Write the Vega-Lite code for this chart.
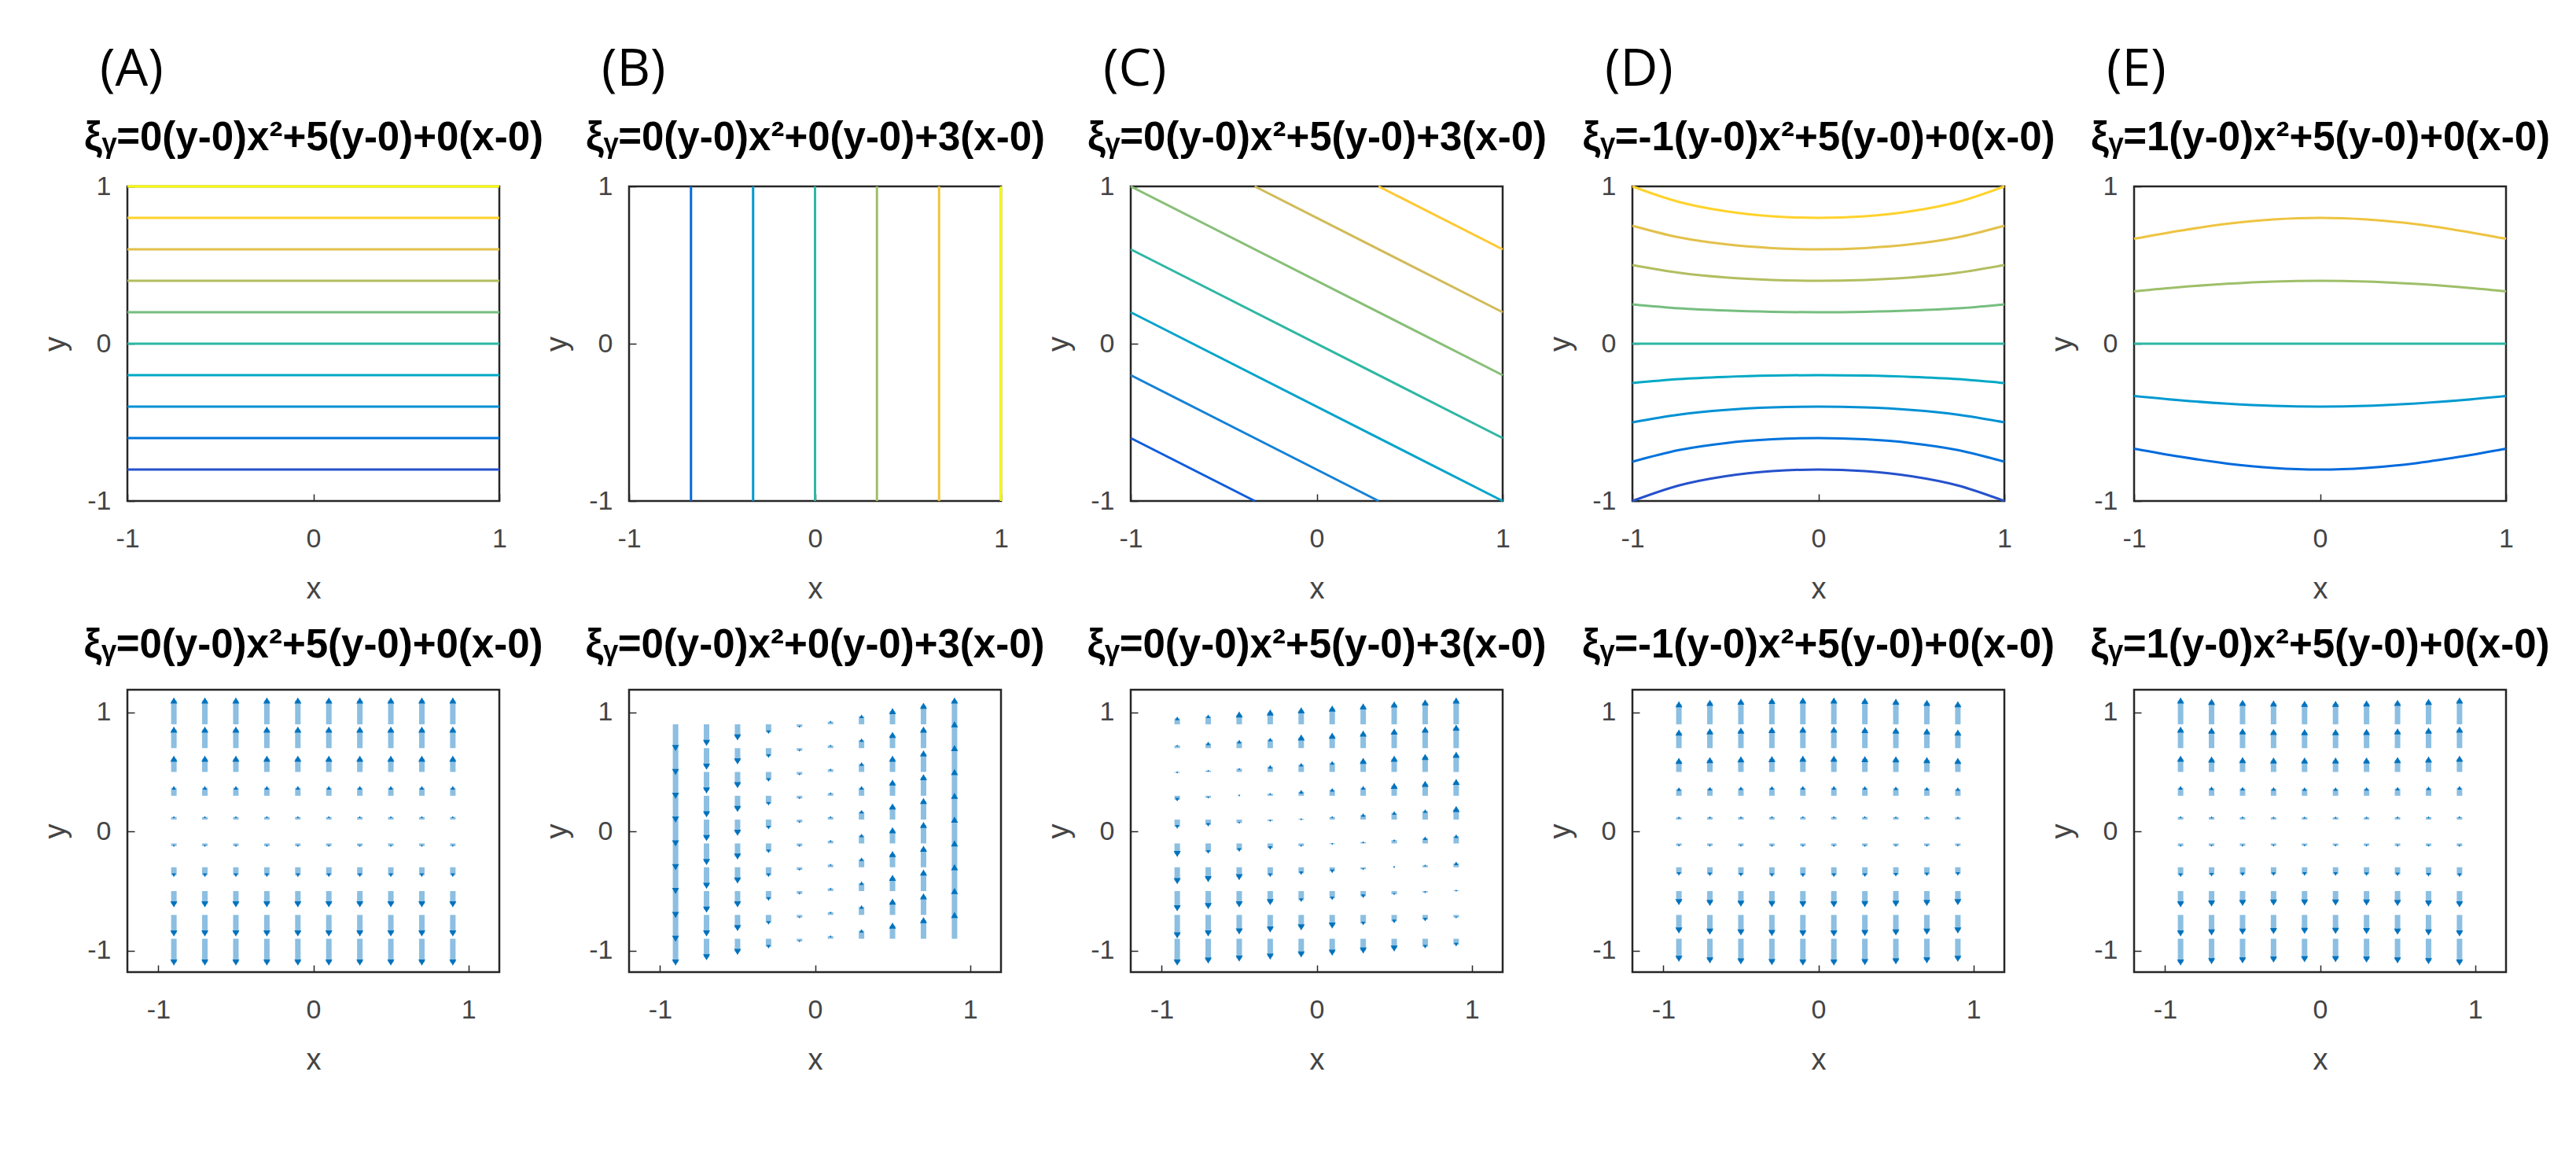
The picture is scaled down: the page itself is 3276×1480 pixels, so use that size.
{
"$schema": "https://vega.github.io/schema/vega-lite/v6.json",
"background": "white",
"padding": {"left": 51, "top": 54, "right": 10, "bottom": 10},
"config": {
  "view": {"stroke": "#262626", "strokeWidth": 2.5},
  "axis": {"grid": false, "domain": false, "ticks": true, "tickSize": -9, "tickColor": "#262626", "tickWidth": 1.5, "labelFont": "Liberation Sans", "labelFontSize": 34, "labelColor": "#444444", "titleFont": "Liberation Sans", "titleFontSize": 38, "titleFontWeight": "normal", "titleColor": "#444444", "labelFlush": false, "labelOverlap": false, "labelExpr": "'' + datum.value"},
  "axisX": {"labelPadding": 40, "titlePadding": 28},
  "axisY": {"labelPadding": 30, "titlePadding": 20},
  "title": {"font": "Liberation Sans", "fontSize": 51, "fontWeight": "bold", "color": "#000000", "anchor": "middle", "offset": 30},
  "line": {"strokeWidth": 3}
},
"resolve": {"scale": {"color": "independent"}},
"datasets": {
  "cA": [
    {"l":-4,"x":-1,"y":-0.8},{"l":-4,"x":1,"y":-0.8},
    {"l":-3,"x":-1,"y":-0.6},{"l":-3,"x":1,"y":-0.6},
    {"l":-2,"x":-1,"y":-0.4},{"l":-2,"x":1,"y":-0.4},
    {"l":-1,"x":-1,"y":-0.2},{"l":-1,"x":1,"y":-0.2},
    {"l":0,"x":-1,"y":0},{"l":0,"x":1,"y":0},
    {"l":1,"x":-1,"y":0.2},{"l":1,"x":1,"y":0.2},
    {"l":2,"x":-1,"y":0.4},{"l":2,"x":1,"y":0.4},
    {"l":3,"x":-1,"y":0.6},{"l":3,"x":1,"y":0.6},
    {"l":4,"x":-1,"y":0.8},{"l":4,"x":1,"y":0.8},
    {"l":5,"x":-1,"y":1},{"l":5,"x":1,"y":1}
  ],
  "cB": [
    {"l":-2,"x":-0.667,"y":-1},{"l":-2,"x":-0.667,"y":1},
    {"l":-1,"x":-0.333,"y":-1},{"l":-1,"x":-0.333,"y":1},
    {"l":0,"x":0,"y":-1},{"l":0,"x":0,"y":1},
    {"l":1,"x":0.333,"y":-1},{"l":1,"x":0.333,"y":1},
    {"l":2,"x":0.667,"y":-1},{"l":2,"x":0.667,"y":1},
    {"l":3,"x":1,"y":-1},{"l":3,"x":1,"y":1}
  ],
  "cC": [
    {"l":6,"x":0.333,"y":1},{"l":6,"x":1,"y":0.6},
    {"l":4,"x":-0.333,"y":1},{"l":4,"x":1,"y":0.2},
    {"l":2,"x":-1,"y":1},{"l":2,"x":1,"y":-0.2},
    {"l":0,"x":-1,"y":0.6},{"l":0,"x":1,"y":-0.6},
    {"l":-2,"x":-1,"y":0.2},{"l":-2,"x":1,"y":-1},
    {"l":-4,"x":-1,"y":-0.2},{"l":-4,"x":0.333,"y":-1},
    {"l":-6,"x":-1,"y":-0.6},{"l":-6,"x":-0.333,"y":-1}
  ],
  "cD": [
    {"l":4,"x":-1,"y":1},{"l":4,"x":-0.75,"y":0.901},{"l":4,"x":-0.5,"y":0.842},{"l":4,"x":-0.25,"y":0.81},{"l":4,"x":0,"y":0.8},{"l":4,"x":0.25,"y":0.81},{"l":4,"x":0.5,"y":0.842},{"l":4,"x":0.75,"y":0.901},{"l":4,"x":1,"y":1},
    {"l":3,"x":-1,"y":0.75},{"l":3,"x":-0.75,"y":0.676},{"l":3,"x":-0.5,"y":0.632},{"l":3,"x":-0.25,"y":0.608},{"l":3,"x":0,"y":0.6},{"l":3,"x":0.25,"y":0.608},{"l":3,"x":0.5,"y":0.632},{"l":3,"x":0.75,"y":0.676},{"l":3,"x":1,"y":0.75},
    {"l":2,"x":-1,"y":0.5},{"l":2,"x":-0.75,"y":0.451},{"l":2,"x":-0.5,"y":0.421},{"l":2,"x":-0.25,"y":0.405},{"l":2,"x":0,"y":0.4},{"l":2,"x":0.25,"y":0.405},{"l":2,"x":0.5,"y":0.421},{"l":2,"x":0.75,"y":0.451},{"l":2,"x":1,"y":0.5},
    {"l":1,"x":-1,"y":0.25},{"l":1,"x":-0.75,"y":0.225},{"l":1,"x":-0.5,"y":0.211},{"l":1,"x":-0.25,"y":0.203},{"l":1,"x":0,"y":0.2},{"l":1,"x":0.25,"y":0.203},{"l":1,"x":0.5,"y":0.211},{"l":1,"x":0.75,"y":0.225},{"l":1,"x":1,"y":0.25},
    {"l":0,"x":-1,"y":0},{"l":0,"x":1,"y":0},
    {"l":-1,"x":-1,"y":-0.25},{"l":-1,"x":-0.75,"y":-0.225},{"l":-1,"x":-0.5,"y":-0.211},{"l":-1,"x":-0.25,"y":-0.203},{"l":-1,"x":0,"y":-0.2},{"l":-1,"x":0.25,"y":-0.203},{"l":-1,"x":0.5,"y":-0.211},{"l":-1,"x":0.75,"y":-0.225},{"l":-1,"x":1,"y":-0.25},
    {"l":-2,"x":-1,"y":-0.5},{"l":-2,"x":-0.75,"y":-0.451},{"l":-2,"x":-0.5,"y":-0.421},{"l":-2,"x":-0.25,"y":-0.405},{"l":-2,"x":0,"y":-0.4},{"l":-2,"x":0.25,"y":-0.405},{"l":-2,"x":0.5,"y":-0.421},{"l":-2,"x":0.75,"y":-0.451},{"l":-2,"x":1,"y":-0.5},
    {"l":-3,"x":-1,"y":-0.75},{"l":-3,"x":-0.75,"y":-0.676},{"l":-3,"x":-0.5,"y":-0.632},{"l":-3,"x":-0.25,"y":-0.608},{"l":-3,"x":0,"y":-0.6},{"l":-3,"x":0.25,"y":-0.608},{"l":-3,"x":0.5,"y":-0.632},{"l":-3,"x":0.75,"y":-0.676},{"l":-3,"x":1,"y":-0.75},
    {"l":-4,"x":-1,"y":-1},{"l":-4,"x":-0.75,"y":-0.901},{"l":-4,"x":-0.5,"y":-0.842},{"l":-4,"x":-0.25,"y":-0.81},{"l":-4,"x":0,"y":-0.8},{"l":-4,"x":0.25,"y":-0.81},{"l":-4,"x":0.5,"y":-0.842},{"l":-4,"x":0.75,"y":-0.901},{"l":-4,"x":1,"y":-1}
  ],
  "cE": [
    {"l":4,"x":-1,"y":0.667},{"l":4,"x":-0.75,"y":0.719},{"l":4,"x":-0.5,"y":0.762},{"l":4,"x":-0.25,"y":0.79},{"l":4,"x":0,"y":0.8},{"l":4,"x":0.25,"y":0.79},{"l":4,"x":0.5,"y":0.762},{"l":4,"x":0.75,"y":0.719},{"l":4,"x":1,"y":0.667},
    {"l":2,"x":-1,"y":0.333},{"l":2,"x":-0.75,"y":0.36},{"l":2,"x":-0.5,"y":0.381},{"l":2,"x":-0.25,"y":0.395},{"l":2,"x":0,"y":0.4},{"l":2,"x":0.25,"y":0.395},{"l":2,"x":0.5,"y":0.381},{"l":2,"x":0.75,"y":0.36},{"l":2,"x":1,"y":0.333},
    {"l":0,"x":-1,"y":0},{"l":0,"x":1,"y":0},
    {"l":-2,"x":-1,"y":-0.333},{"l":-2,"x":-0.75,"y":-0.36},{"l":-2,"x":-0.5,"y":-0.381},{"l":-2,"x":-0.25,"y":-0.395},{"l":-2,"x":0,"y":-0.4},{"l":-2,"x":0.25,"y":-0.395},{"l":-2,"x":0.5,"y":-0.381},{"l":-2,"x":0.75,"y":-0.36},{"l":-2,"x":1,"y":-0.333},
    {"l":-4,"x":-1,"y":-0.667},{"l":-4,"x":-0.75,"y":-0.719},{"l":-4,"x":-0.5,"y":-0.762},{"l":-4,"x":-0.25,"y":-0.79},{"l":-4,"x":0,"y":-0.8},{"l":-4,"x":0.25,"y":-0.79},{"l":-4,"x":0.5,"y":-0.762},{"l":-4,"x":0.75,"y":-0.719},{"l":-4,"x":1,"y":-0.667}
  ],
  "qA": [
    {"x":-0.9,"y":-0.9,"e":-1.1},{"x":-0.9,"y":-0.7,"e":-0.856},{"x":-0.9,"y":-0.5,"e":-0.611},{"x":-0.9,"y":-0.3,"e":-0.367},{"x":-0.9,"y":-0.1,"e":-0.122},{"x":-0.9,"y":0.1,"e":0.122},{"x":-0.9,"y":0.3,"e":0.367},{"x":-0.9,"y":0.5,"e":0.611},{"x":-0.9,"y":0.7,"e":0.856},{"x":-0.9,"y":0.9,"e":1.1},
    {"x":-0.7,"y":-0.9,"e":-1.1},{"x":-0.7,"y":-0.7,"e":-0.856},{"x":-0.7,"y":-0.5,"e":-0.611},{"x":-0.7,"y":-0.3,"e":-0.367},{"x":-0.7,"y":-0.1,"e":-0.122},{"x":-0.7,"y":0.1,"e":0.122},{"x":-0.7,"y":0.3,"e":0.367},{"x":-0.7,"y":0.5,"e":0.611},{"x":-0.7,"y":0.7,"e":0.856},{"x":-0.7,"y":0.9,"e":1.1},
    {"x":-0.5,"y":-0.9,"e":-1.1},{"x":-0.5,"y":-0.7,"e":-0.856},{"x":-0.5,"y":-0.5,"e":-0.611},{"x":-0.5,"y":-0.3,"e":-0.367},{"x":-0.5,"y":-0.1,"e":-0.122},{"x":-0.5,"y":0.1,"e":0.122},{"x":-0.5,"y":0.3,"e":0.367},{"x":-0.5,"y":0.5,"e":0.611},{"x":-0.5,"y":0.7,"e":0.856},{"x":-0.5,"y":0.9,"e":1.1},
    {"x":-0.3,"y":-0.9,"e":-1.1},{"x":-0.3,"y":-0.7,"e":-0.856},{"x":-0.3,"y":-0.5,"e":-0.611},{"x":-0.3,"y":-0.3,"e":-0.367},{"x":-0.3,"y":-0.1,"e":-0.122},{"x":-0.3,"y":0.1,"e":0.122},{"x":-0.3,"y":0.3,"e":0.367},{"x":-0.3,"y":0.5,"e":0.611},{"x":-0.3,"y":0.7,"e":0.856},{"x":-0.3,"y":0.9,"e":1.1},
    {"x":-0.1,"y":-0.9,"e":-1.1},{"x":-0.1,"y":-0.7,"e":-0.856},{"x":-0.1,"y":-0.5,"e":-0.611},{"x":-0.1,"y":-0.3,"e":-0.367},{"x":-0.1,"y":-0.1,"e":-0.122},{"x":-0.1,"y":0.1,"e":0.122},{"x":-0.1,"y":0.3,"e":0.367},{"x":-0.1,"y":0.5,"e":0.611},{"x":-0.1,"y":0.7,"e":0.856},{"x":-0.1,"y":0.9,"e":1.1},
    {"x":0.1,"y":-0.9,"e":-1.1},{"x":0.1,"y":-0.7,"e":-0.856},{"x":0.1,"y":-0.5,"e":-0.611},{"x":0.1,"y":-0.3,"e":-0.367},{"x":0.1,"y":-0.1,"e":-0.122},{"x":0.1,"y":0.1,"e":0.122},{"x":0.1,"y":0.3,"e":0.367},{"x":0.1,"y":0.5,"e":0.611},{"x":0.1,"y":0.7,"e":0.856},{"x":0.1,"y":0.9,"e":1.1},
    {"x":0.3,"y":-0.9,"e":-1.1},{"x":0.3,"y":-0.7,"e":-0.856},{"x":0.3,"y":-0.5,"e":-0.611},{"x":0.3,"y":-0.3,"e":-0.367},{"x":0.3,"y":-0.1,"e":-0.122},{"x":0.3,"y":0.1,"e":0.122},{"x":0.3,"y":0.3,"e":0.367},{"x":0.3,"y":0.5,"e":0.611},{"x":0.3,"y":0.7,"e":0.856},{"x":0.3,"y":0.9,"e":1.1},
    {"x":0.5,"y":-0.9,"e":-1.1},{"x":0.5,"y":-0.7,"e":-0.856},{"x":0.5,"y":-0.5,"e":-0.611},{"x":0.5,"y":-0.3,"e":-0.367},{"x":0.5,"y":-0.1,"e":-0.122},{"x":0.5,"y":0.1,"e":0.122},{"x":0.5,"y":0.3,"e":0.367},{"x":0.5,"y":0.5,"e":0.611},{"x":0.5,"y":0.7,"e":0.856},{"x":0.5,"y":0.9,"e":1.1},
    {"x":0.7,"y":-0.9,"e":-1.1},{"x":0.7,"y":-0.7,"e":-0.856},{"x":0.7,"y":-0.5,"e":-0.611},{"x":0.7,"y":-0.3,"e":-0.367},{"x":0.7,"y":-0.1,"e":-0.122},{"x":0.7,"y":0.1,"e":0.122},{"x":0.7,"y":0.3,"e":0.367},{"x":0.7,"y":0.5,"e":0.611},{"x":0.7,"y":0.7,"e":0.856},{"x":0.7,"y":0.9,"e":1.1},
    {"x":0.9,"y":-0.9,"e":-1.1},{"x":0.9,"y":-0.7,"e":-0.856},{"x":0.9,"y":-0.5,"e":-0.611},{"x":0.9,"y":-0.3,"e":-0.367},{"x":0.9,"y":-0.1,"e":-0.122},{"x":0.9,"y":0.1,"e":0.122},{"x":0.9,"y":0.3,"e":0.367},{"x":0.9,"y":0.5,"e":0.611},{"x":0.9,"y":0.7,"e":0.856},{"x":0.9,"y":0.9,"e":1.1}
  ],
  "qB": [
    {"x":-0.9,"y":-0.9,"e":-1.1},{"x":-0.9,"y":-0.7,"e":-0.9},{"x":-0.9,"y":-0.5,"e":-0.7},{"x":-0.9,"y":-0.3,"e":-0.5},{"x":-0.9,"y":-0.1,"e":-0.3},{"x":-0.9,"y":0.1,"e":-0.1},{"x":-0.9,"y":0.3,"e":0.1},{"x":-0.9,"y":0.5,"e":0.3},{"x":-0.9,"y":0.7,"e":0.5},{"x":-0.9,"y":0.9,"e":0.7},
    {"x":-0.7,"y":-0.9,"e":-1.056},{"x":-0.7,"y":-0.7,"e":-0.856},{"x":-0.7,"y":-0.5,"e":-0.656},{"x":-0.7,"y":-0.3,"e":-0.456},{"x":-0.7,"y":-0.1,"e":-0.256},{"x":-0.7,"y":0.1,"e":-0.056},{"x":-0.7,"y":0.3,"e":0.144},{"x":-0.7,"y":0.5,"e":0.344},{"x":-0.7,"y":0.7,"e":0.544},{"x":-0.7,"y":0.9,"e":0.744},
    {"x":-0.5,"y":-0.9,"e":-1.011},{"x":-0.5,"y":-0.7,"e":-0.811},{"x":-0.5,"y":-0.5,"e":-0.611},{"x":-0.5,"y":-0.3,"e":-0.411},{"x":-0.5,"y":-0.1,"e":-0.211},{"x":-0.5,"y":0.1,"e":-0.011},{"x":-0.5,"y":0.3,"e":0.189},{"x":-0.5,"y":0.5,"e":0.389},{"x":-0.5,"y":0.7,"e":0.589},{"x":-0.5,"y":0.9,"e":0.789},
    {"x":-0.3,"y":-0.9,"e":-0.967},{"x":-0.3,"y":-0.7,"e":-0.767},{"x":-0.3,"y":-0.5,"e":-0.567},{"x":-0.3,"y":-0.3,"e":-0.367},{"x":-0.3,"y":-0.1,"e":-0.167},{"x":-0.3,"y":0.1,"e":0.033},{"x":-0.3,"y":0.3,"e":0.233},{"x":-0.3,"y":0.5,"e":0.433},{"x":-0.3,"y":0.7,"e":0.633},{"x":-0.3,"y":0.9,"e":0.833},
    {"x":-0.1,"y":-0.9,"e":-0.922},{"x":-0.1,"y":-0.7,"e":-0.722},{"x":-0.1,"y":-0.5,"e":-0.522},{"x":-0.1,"y":-0.3,"e":-0.322},{"x":-0.1,"y":-0.1,"e":-0.122},{"x":-0.1,"y":0.1,"e":0.078},{"x":-0.1,"y":0.3,"e":0.278},{"x":-0.1,"y":0.5,"e":0.478},{"x":-0.1,"y":0.7,"e":0.678},{"x":-0.1,"y":0.9,"e":0.878},
    {"x":0.1,"y":-0.9,"e":-0.878},{"x":0.1,"y":-0.7,"e":-0.678},{"x":0.1,"y":-0.5,"e":-0.478},{"x":0.1,"y":-0.3,"e":-0.278},{"x":0.1,"y":-0.1,"e":-0.078},{"x":0.1,"y":0.1,"e":0.122},{"x":0.1,"y":0.3,"e":0.322},{"x":0.1,"y":0.5,"e":0.522},{"x":0.1,"y":0.7,"e":0.722},{"x":0.1,"y":0.9,"e":0.922},
    {"x":0.3,"y":-0.9,"e":-0.833},{"x":0.3,"y":-0.7,"e":-0.633},{"x":0.3,"y":-0.5,"e":-0.433},{"x":0.3,"y":-0.3,"e":-0.233},{"x":0.3,"y":-0.1,"e":-0.033},{"x":0.3,"y":0.1,"e":0.167},{"x":0.3,"y":0.3,"e":0.367},{"x":0.3,"y":0.5,"e":0.567},{"x":0.3,"y":0.7,"e":0.767},{"x":0.3,"y":0.9,"e":0.967},
    {"x":0.5,"y":-0.9,"e":-0.789},{"x":0.5,"y":-0.7,"e":-0.589},{"x":0.5,"y":-0.5,"e":-0.389},{"x":0.5,"y":-0.3,"e":-0.189},{"x":0.5,"y":-0.1,"e":0.011},{"x":0.5,"y":0.1,"e":0.211},{"x":0.5,"y":0.3,"e":0.411},{"x":0.5,"y":0.5,"e":0.611},{"x":0.5,"y":0.7,"e":0.811},{"x":0.5,"y":0.9,"e":1.011},
    {"x":0.7,"y":-0.9,"e":-0.744},{"x":0.7,"y":-0.7,"e":-0.544},{"x":0.7,"y":-0.5,"e":-0.344},{"x":0.7,"y":-0.3,"e":-0.144},{"x":0.7,"y":-0.1,"e":0.056},{"x":0.7,"y":0.1,"e":0.256},{"x":0.7,"y":0.3,"e":0.456},{"x":0.7,"y":0.5,"e":0.656},{"x":0.7,"y":0.7,"e":0.856},{"x":0.7,"y":0.9,"e":1.056},
    {"x":0.9,"y":-0.9,"e":-0.7},{"x":0.9,"y":-0.7,"e":-0.5},{"x":0.9,"y":-0.5,"e":-0.3},{"x":0.9,"y":-0.3,"e":-0.1},{"x":0.9,"y":-0.1,"e":0.1},{"x":0.9,"y":0.1,"e":0.3},{"x":0.9,"y":0.3,"e":0.5},{"x":0.9,"y":0.5,"e":0.7},{"x":0.9,"y":0.7,"e":0.9},{"x":0.9,"y":0.9,"e":1.1}
  ],
  "qC": [
    {"x":-0.9,"y":-0.9,"e":-1.1},{"x":-0.9,"y":-0.7,"e":-0.872},{"x":-0.9,"y":-0.5,"e":-0.644},{"x":-0.9,"y":-0.3,"e":-0.417},{"x":-0.9,"y":-0.1,"e":-0.189},{"x":-0.9,"y":0.1,"e":0.039},{"x":-0.9,"y":0.3,"e":0.267},{"x":-0.9,"y":0.5,"e":0.494},{"x":-0.9,"y":0.7,"e":0.722},{"x":-0.9,"y":0.9,"e":0.95},
    {"x":-0.7,"y":-0.9,"e":-1.083},{"x":-0.7,"y":-0.7,"e":-0.855},{"x":-0.7,"y":-0.5,"e":-0.627},{"x":-0.7,"y":-0.3,"e":-0.4},{"x":-0.7,"y":-0.1,"e":-0.172},{"x":-0.7,"y":0.1,"e":0.056},{"x":-0.7,"y":0.3,"e":0.284},{"x":-0.7,"y":0.5,"e":0.511},{"x":-0.7,"y":0.7,"e":0.739},{"x":-0.7,"y":0.9,"e":0.967},
    {"x":-0.5,"y":-0.9,"e":-1.067},{"x":-0.5,"y":-0.7,"e":-0.839},{"x":-0.5,"y":-0.5,"e":-0.611},{"x":-0.5,"y":-0.3,"e":-0.384},{"x":-0.5,"y":-0.1,"e":-0.156},{"x":-0.5,"y":0.1,"e":0.072},{"x":-0.5,"y":0.3,"e":0.3},{"x":-0.5,"y":0.5,"e":0.527},{"x":-0.5,"y":0.7,"e":0.755},{"x":-0.5,"y":0.9,"e":0.983},
    {"x":-0.3,"y":-0.9,"e":-1.05},{"x":-0.3,"y":-0.7,"e":-0.822},{"x":-0.3,"y":-0.5,"e":-0.594},{"x":-0.3,"y":-0.3,"e":-0.367},{"x":-0.3,"y":-0.1,"e":-0.139},{"x":-0.3,"y":0.1,"e":0.089},{"x":-0.3,"y":0.3,"e":0.317},{"x":-0.3,"y":0.5,"e":0.544},{"x":-0.3,"y":0.7,"e":0.772},{"x":-0.3,"y":0.9,"e":1.0},
    {"x":-0.1,"y":-0.9,"e":-1.033},{"x":-0.1,"y":-0.7,"e":-0.805},{"x":-0.1,"y":-0.5,"e":-0.577},{"x":-0.1,"y":-0.3,"e":-0.35},{"x":-0.1,"y":-0.1,"e":-0.122},{"x":-0.1,"y":0.1,"e":0.106},{"x":-0.1,"y":0.3,"e":0.334},{"x":-0.1,"y":0.5,"e":0.561},{"x":-0.1,"y":0.7,"e":0.789},{"x":-0.1,"y":0.9,"e":1.017},
    {"x":0.1,"y":-0.9,"e":-1.017},{"x":0.1,"y":-0.7,"e":-0.789},{"x":0.1,"y":-0.5,"e":-0.561},{"x":0.1,"y":-0.3,"e":-0.334},{"x":0.1,"y":-0.1,"e":-0.106},{"x":0.1,"y":0.1,"e":0.122},{"x":0.1,"y":0.3,"e":0.35},{"x":0.1,"y":0.5,"e":0.577},{"x":0.1,"y":0.7,"e":0.805},{"x":0.1,"y":0.9,"e":1.033},
    {"x":0.3,"y":-0.9,"e":-1.0},{"x":0.3,"y":-0.7,"e":-0.772},{"x":0.3,"y":-0.5,"e":-0.544},{"x":0.3,"y":-0.3,"e":-0.317},{"x":0.3,"y":-0.1,"e":-0.089},{"x":0.3,"y":0.1,"e":0.139},{"x":0.3,"y":0.3,"e":0.367},{"x":0.3,"y":0.5,"e":0.594},{"x":0.3,"y":0.7,"e":0.822},{"x":0.3,"y":0.9,"e":1.05},
    {"x":0.5,"y":-0.9,"e":-0.983},{"x":0.5,"y":-0.7,"e":-0.755},{"x":0.5,"y":-0.5,"e":-0.527},{"x":0.5,"y":-0.3,"e":-0.3},{"x":0.5,"y":-0.1,"e":-0.072},{"x":0.5,"y":0.1,"e":0.156},{"x":0.5,"y":0.3,"e":0.384},{"x":0.5,"y":0.5,"e":0.611},{"x":0.5,"y":0.7,"e":0.839},{"x":0.5,"y":0.9,"e":1.067},
    {"x":0.7,"y":-0.9,"e":-0.967},{"x":0.7,"y":-0.7,"e":-0.739},{"x":0.7,"y":-0.5,"e":-0.511},{"x":0.7,"y":-0.3,"e":-0.284},{"x":0.7,"y":-0.1,"e":-0.056},{"x":0.7,"y":0.1,"e":0.172},{"x":0.7,"y":0.3,"e":0.4},{"x":0.7,"y":0.5,"e":0.627},{"x":0.7,"y":0.7,"e":0.855},{"x":0.7,"y":0.9,"e":1.083},
    {"x":0.9,"y":-0.9,"e":-0.95},{"x":0.9,"y":-0.7,"e":-0.722},{"x":0.9,"y":-0.5,"e":-0.494},{"x":0.9,"y":-0.3,"e":-0.267},{"x":0.9,"y":-0.1,"e":-0.039},{"x":0.9,"y":0.1,"e":0.189},{"x":0.9,"y":0.3,"e":0.417},{"x":0.9,"y":0.5,"e":0.644},{"x":0.9,"y":0.7,"e":0.872},{"x":0.9,"y":0.9,"e":1.1}
  ],
  "qD": [
    {"x":-0.9,"y":-0.9,"e":-1.068},{"x":-0.9,"y":-0.7,"e":-0.831},{"x":-0.9,"y":-0.5,"e":-0.593},{"x":-0.9,"y":-0.3,"e":-0.356},{"x":-0.9,"y":-0.1,"e":-0.119},{"x":-0.9,"y":0.1,"e":0.119},{"x":-0.9,"y":0.3,"e":0.356},{"x":-0.9,"y":0.5,"e":0.593},{"x":-0.9,"y":0.7,"e":0.831},{"x":-0.9,"y":0.9,"e":1.068},
    {"x":-0.7,"y":-0.9,"e":-1.081},{"x":-0.7,"y":-0.7,"e":-0.841},{"x":-0.7,"y":-0.5,"e":-0.6},{"x":-0.7,"y":-0.3,"e":-0.36},{"x":-0.7,"y":-0.1,"e":-0.12},{"x":-0.7,"y":0.1,"e":0.12},{"x":-0.7,"y":0.3,"e":0.36},{"x":-0.7,"y":0.5,"e":0.6},{"x":-0.7,"y":0.7,"e":0.841},{"x":-0.7,"y":0.9,"e":1.081},
    {"x":-0.5,"y":-0.9,"e":-1.09},{"x":-0.5,"y":-0.7,"e":-0.848},{"x":-0.5,"y":-0.5,"e":-0.606},{"x":-0.5,"y":-0.3,"e":-0.363},{"x":-0.5,"y":-0.1,"e":-0.121},{"x":-0.5,"y":0.1,"e":0.121},{"x":-0.5,"y":0.3,"e":0.363},{"x":-0.5,"y":0.5,"e":0.606},{"x":-0.5,"y":0.7,"e":0.848},{"x":-0.5,"y":0.9,"e":1.09},
    {"x":-0.3,"y":-0.9,"e":-1.097},{"x":-0.3,"y":-0.7,"e":-0.853},{"x":-0.3,"y":-0.5,"e":-0.609},{"x":-0.3,"y":-0.3,"e":-0.366},{"x":-0.3,"y":-0.1,"e":-0.122},{"x":-0.3,"y":0.1,"e":0.122},{"x":-0.3,"y":0.3,"e":0.366},{"x":-0.3,"y":0.5,"e":0.609},{"x":-0.3,"y":0.7,"e":0.853},{"x":-0.3,"y":0.9,"e":1.097},
    {"x":-0.1,"y":-0.9,"e":-1.1},{"x":-0.1,"y":-0.7,"e":-0.856},{"x":-0.1,"y":-0.5,"e":-0.611},{"x":-0.1,"y":-0.3,"e":-0.367},{"x":-0.1,"y":-0.1,"e":-0.122},{"x":-0.1,"y":0.1,"e":0.122},{"x":-0.1,"y":0.3,"e":0.367},{"x":-0.1,"y":0.5,"e":0.611},{"x":-0.1,"y":0.7,"e":0.856},{"x":-0.1,"y":0.9,"e":1.1},
    {"x":0.1,"y":-0.9,"e":-1.1},{"x":0.1,"y":-0.7,"e":-0.856},{"x":0.1,"y":-0.5,"e":-0.611},{"x":0.1,"y":-0.3,"e":-0.367},{"x":0.1,"y":-0.1,"e":-0.122},{"x":0.1,"y":0.1,"e":0.122},{"x":0.1,"y":0.3,"e":0.367},{"x":0.1,"y":0.5,"e":0.611},{"x":0.1,"y":0.7,"e":0.856},{"x":0.1,"y":0.9,"e":1.1},
    {"x":0.3,"y":-0.9,"e":-1.097},{"x":0.3,"y":-0.7,"e":-0.853},{"x":0.3,"y":-0.5,"e":-0.609},{"x":0.3,"y":-0.3,"e":-0.366},{"x":0.3,"y":-0.1,"e":-0.122},{"x":0.3,"y":0.1,"e":0.122},{"x":0.3,"y":0.3,"e":0.366},{"x":0.3,"y":0.5,"e":0.609},{"x":0.3,"y":0.7,"e":0.853},{"x":0.3,"y":0.9,"e":1.097},
    {"x":0.5,"y":-0.9,"e":-1.09},{"x":0.5,"y":-0.7,"e":-0.848},{"x":0.5,"y":-0.5,"e":-0.606},{"x":0.5,"y":-0.3,"e":-0.363},{"x":0.5,"y":-0.1,"e":-0.121},{"x":0.5,"y":0.1,"e":0.121},{"x":0.5,"y":0.3,"e":0.363},{"x":0.5,"y":0.5,"e":0.606},{"x":0.5,"y":0.7,"e":0.848},{"x":0.5,"y":0.9,"e":1.09},
    {"x":0.7,"y":-0.9,"e":-1.081},{"x":0.7,"y":-0.7,"e":-0.841},{"x":0.7,"y":-0.5,"e":-0.6},{"x":0.7,"y":-0.3,"e":-0.36},{"x":0.7,"y":-0.1,"e":-0.12},{"x":0.7,"y":0.1,"e":0.12},{"x":0.7,"y":0.3,"e":0.36},{"x":0.7,"y":0.5,"e":0.6},{"x":0.7,"y":0.7,"e":0.841},{"x":0.7,"y":0.9,"e":1.081},
    {"x":0.9,"y":-0.9,"e":-1.068},{"x":0.9,"y":-0.7,"e":-0.831},{"x":0.9,"y":-0.5,"e":-0.593},{"x":0.9,"y":-0.3,"e":-0.356},{"x":0.9,"y":-0.1,"e":-0.119},{"x":0.9,"y":0.1,"e":0.119},{"x":0.9,"y":0.3,"e":0.356},{"x":0.9,"y":0.5,"e":0.593},{"x":0.9,"y":0.7,"e":0.831},{"x":0.9,"y":0.9,"e":1.068}
  ],
  "qE": [
    {"x":-0.9,"y":-0.9,"e":-1.1},{"x":-0.9,"y":-0.7,"e":-0.856},{"x":-0.9,"y":-0.5,"e":-0.611},{"x":-0.9,"y":-0.3,"e":-0.367},{"x":-0.9,"y":-0.1,"e":-0.122},{"x":-0.9,"y":0.1,"e":0.122},{"x":-0.9,"y":0.3,"e":0.367},{"x":-0.9,"y":0.5,"e":0.611},{"x":-0.9,"y":0.7,"e":0.856},{"x":-0.9,"y":0.9,"e":1.1},
    {"x":-0.7,"y":-0.9,"e":-1.089},{"x":-0.7,"y":-0.7,"e":-0.847},{"x":-0.7,"y":-0.5,"e":-0.605},{"x":-0.7,"y":-0.3,"e":-0.363},{"x":-0.7,"y":-0.1,"e":-0.121},{"x":-0.7,"y":0.1,"e":0.121},{"x":-0.7,"y":0.3,"e":0.363},{"x":-0.7,"y":0.5,"e":0.605},{"x":-0.7,"y":0.7,"e":0.847},{"x":-0.7,"y":0.9,"e":1.089},
    {"x":-0.5,"y":-0.9,"e":-1.081},{"x":-0.5,"y":-0.7,"e":-0.841},{"x":-0.5,"y":-0.5,"e":-0.6},{"x":-0.5,"y":-0.3,"e":-0.36},{"x":-0.5,"y":-0.1,"e":-0.12},{"x":-0.5,"y":0.1,"e":0.12},{"x":-0.5,"y":0.3,"e":0.36},{"x":-0.5,"y":0.5,"e":0.6},{"x":-0.5,"y":0.7,"e":0.841},{"x":-0.5,"y":0.9,"e":1.081},
    {"x":-0.3,"y":-0.9,"e":-1.075},{"x":-0.3,"y":-0.7,"e":-0.836},{"x":-0.3,"y":-0.5,"e":-0.597},{"x":-0.3,"y":-0.3,"e":-0.358},{"x":-0.3,"y":-0.1,"e":-0.119},{"x":-0.3,"y":0.1,"e":0.119},{"x":-0.3,"y":0.3,"e":0.358},{"x":-0.3,"y":0.5,"e":0.597},{"x":-0.3,"y":0.7,"e":0.836},{"x":-0.3,"y":0.9,"e":1.075},
    {"x":-0.1,"y":-0.9,"e":-1.072},{"x":-0.1,"y":-0.7,"e":-0.834},{"x":-0.1,"y":-0.5,"e":-0.596},{"x":-0.1,"y":-0.3,"e":-0.357},{"x":-0.1,"y":-0.1,"e":-0.119},{"x":-0.1,"y":0.1,"e":0.119},{"x":-0.1,"y":0.3,"e":0.357},{"x":-0.1,"y":0.5,"e":0.596},{"x":-0.1,"y":0.7,"e":0.834},{"x":-0.1,"y":0.9,"e":1.072},
    {"x":0.1,"y":-0.9,"e":-1.072},{"x":0.1,"y":-0.7,"e":-0.834},{"x":0.1,"y":-0.5,"e":-0.596},{"x":0.1,"y":-0.3,"e":-0.357},{"x":0.1,"y":-0.1,"e":-0.119},{"x":0.1,"y":0.1,"e":0.119},{"x":0.1,"y":0.3,"e":0.357},{"x":0.1,"y":0.5,"e":0.596},{"x":0.1,"y":0.7,"e":0.834},{"x":0.1,"y":0.9,"e":1.072},
    {"x":0.3,"y":-0.9,"e":-1.075},{"x":0.3,"y":-0.7,"e":-0.836},{"x":0.3,"y":-0.5,"e":-0.597},{"x":0.3,"y":-0.3,"e":-0.358},{"x":0.3,"y":-0.1,"e":-0.119},{"x":0.3,"y":0.1,"e":0.119},{"x":0.3,"y":0.3,"e":0.358},{"x":0.3,"y":0.5,"e":0.597},{"x":0.3,"y":0.7,"e":0.836},{"x":0.3,"y":0.9,"e":1.075},
    {"x":0.5,"y":-0.9,"e":-1.081},{"x":0.5,"y":-0.7,"e":-0.841},{"x":0.5,"y":-0.5,"e":-0.6},{"x":0.5,"y":-0.3,"e":-0.36},{"x":0.5,"y":-0.1,"e":-0.12},{"x":0.5,"y":0.1,"e":0.12},{"x":0.5,"y":0.3,"e":0.36},{"x":0.5,"y":0.5,"e":0.6},{"x":0.5,"y":0.7,"e":0.841},{"x":0.5,"y":0.9,"e":1.081},
    {"x":0.7,"y":-0.9,"e":-1.089},{"x":0.7,"y":-0.7,"e":-0.847},{"x":0.7,"y":-0.5,"e":-0.605},{"x":0.7,"y":-0.3,"e":-0.363},{"x":0.7,"y":-0.1,"e":-0.121},{"x":0.7,"y":0.1,"e":0.121},{"x":0.7,"y":0.3,"e":0.363},{"x":0.7,"y":0.5,"e":0.605},{"x":0.7,"y":0.7,"e":0.847},{"x":0.7,"y":0.9,"e":1.089},
    {"x":0.9,"y":-0.9,"e":-1.1},{"x":0.9,"y":-0.7,"e":-0.856},{"x":0.9,"y":-0.5,"e":-0.611},{"x":0.9,"y":-0.3,"e":-0.367},{"x":0.9,"y":-0.1,"e":-0.122},{"x":0.9,"y":0.1,"e":0.122},{"x":0.9,"y":0.3,"e":0.367},{"x":0.9,"y":0.5,"e":0.611},{"x":0.9,"y":0.7,"e":0.856},{"x":0.9,"y":0.9,"e":1.1}
  ]
},
"columns": 5,
"spacing": {"row": 240, "column": 165},
"bounds": "flush",
"concat": [
  {"width": 473, "height": 400, "data": {"name": "cA"},
   "title": {"text": "(A)", "anchor": "start", "frame": "group", "dx": -35, "font": "Open Sans", "fontSize": 66, "fontWeight": "normal", "offset": 26},
   "encoding": {
     "y": {"field": "y", "type": "quantitative", "scale": {"domain": [-1, 1], "nice": false, "zero": false}, "axis": {"values": [-1, 0, 1], "title": "y"}},
     "color": {"field": "l", "type": "quantitative", "scale": {"domain": [-5,-3.75,-2.5,-1.25,0,1.25,2.5,3.75,5], "range": ["#352a87","#0f5cdd","#1481d6","#06a4ca","#2eb7a4","#87bf77","#d1bb59","#fec832","#f9fb0e"]}, "legend": null},
     "detail": {"field": "l", "type": "nominal"}},
   "layer": [
     {"mark": {"type": "line"}, "encoding": {"x": {"field": "x", "type": "quantitative", "scale": {"domain": [-1, 1], "nice": false, "zero": false}, "axis": {"values": [-1, 0, 1], "title": "x"}}, "strokeWidth": {"condition": {"test": "datum.l == 0", "value": 5}, "value": 3}}},
     {"mark": {"type": "line", "opacity": 0}, "encoding": {"x": {"field": "x", "type": "quantitative", "axis": {"orient": "top", "title": "ξᵧ=0(y-0)x²+5(y-0)+0(x-0)", "labels": false, "ticks": false, "titleFont": "Liberation Sans", "titleFontSize": 51, "titleFontWeight": "bold", "titleColor": "#000000", "titlePadding": 36}}}}
   ],
   "resolve": {"axis": {"x": "independent"}}},
  {"width": 473, "height": 400, "data": {"name": "cB"},
   "title": {"text": "(B)", "anchor": "start", "frame": "group", "dx": -35, "font": "Open Sans", "fontSize": 66, "fontWeight": "normal", "offset": 26},
   "encoding": {
     "y": {"field": "y", "type": "quantitative", "scale": {"domain": [-1, 1], "nice": false, "zero": false}, "axis": {"values": [-1, 0, 1], "title": "y"}},
     "color": {"field": "l", "type": "quantitative", "scale": {"domain": [-3,-2.25,-1.5,-0.75,0,0.75,1.5,2.25,3], "range": ["#352a87","#0f5cdd","#1481d6","#06a4ca","#2eb7a4","#87bf77","#d1bb59","#fec832","#f9fb0e"]}, "legend": null},
     "detail": {"field": "l", "type": "nominal"}},
   "layer": [
     {"mark": {"type": "line"}, "encoding": {"x": {"field": "x", "type": "quantitative", "scale": {"domain": [-1, 1], "nice": false, "zero": false}, "axis": {"values": [-1, 0, 1], "title": "x"}}}},
     {"mark": {"type": "line", "opacity": 0}, "encoding": {"x": {"field": "x", "type": "quantitative", "axis": {"orient": "top", "title": "ξᵧ=0(y-0)x²+0(y-0)+3(x-0)", "labels": false, "ticks": false, "titleFont": "Liberation Sans", "titleFontSize": 51, "titleFontWeight": "bold", "titleColor": "#000000", "titlePadding": 36}}}}
   ],
   "resolve": {"axis": {"x": "independent"}}},
  {"width": 473, "height": 400, "data": {"name": "cC"},
   "title": {"text": "(C)", "anchor": "start", "frame": "group", "dx": -35, "font": "Open Sans", "fontSize": 66, "fontWeight": "normal", "offset": 26},
   "encoding": {
     "y": {"field": "y", "type": "quantitative", "scale": {"domain": [-1, 1], "nice": false, "zero": false}, "axis": {"values": [-1, 0, 1], "title": "y"}},
     "color": {"field": "l", "type": "quantitative", "scale": {"domain": [-8,-6,-4,-2,0,2,4,6,8], "range": ["#352a87","#0f5cdd","#1481d6","#06a4ca","#2eb7a4","#87bf77","#d1bb59","#fec832","#f9fb0e"]}, "legend": null},
     "detail": {"field": "l", "type": "nominal"}},
   "layer": [
     {"mark": {"type": "line"}, "encoding": {"x": {"field": "x", "type": "quantitative", "scale": {"domain": [-1, 1], "nice": false, "zero": false}, "axis": {"values": [-1, 0, 1], "title": "x"}}}},
     {"mark": {"type": "line", "opacity": 0}, "encoding": {"x": {"field": "x", "type": "quantitative", "axis": {"orient": "top", "title": "ξᵧ=0(y-0)x²+5(y-0)+3(x-0)", "labels": false, "ticks": false, "titleFont": "Liberation Sans", "titleFontSize": 51, "titleFontWeight": "bold", "titleColor": "#000000", "titlePadding": 36}}}}
   ],
   "resolve": {"axis": {"x": "independent"}}},
  {"width": 473, "height": 400, "data": {"name": "cD"},
   "title": {"text": "(D)", "anchor": "start", "frame": "group", "dx": -35, "font": "Open Sans", "fontSize": 66, "fontWeight": "normal", "offset": 26},
   "encoding": {
     "y": {"field": "y", "type": "quantitative", "scale": {"domain": [-1, 1], "nice": false, "zero": false}, "axis": {"values": [-1, 0, 1], "title": "y"}},
     "color": {"field": "l", "type": "quantitative", "scale": {"domain": [-5,-3.75,-2.5,-1.25,0,1.25,2.5,3.75,5], "range": ["#352a87","#0f5cdd","#1481d6","#06a4ca","#2eb7a4","#87bf77","#d1bb59","#fec832","#f9fb0e"]}, "legend": null},
     "detail": {"field": "l", "type": "nominal"}},
   "layer": [
     {"mark": {"type": "line", "interpolate": "monotone"}, "encoding": {"x": {"field": "x", "type": "quantitative", "scale": {"domain": [-1, 1], "nice": false, "zero": false}, "axis": {"values": [-1, 0, 1], "title": "x"}}, "strokeWidth": {"condition": {"test": "datum.l == 0", "value": 5}, "value": 3}}},
     {"mark": {"type": "line", "opacity": 0}, "encoding": {"x": {"field": "x", "type": "quantitative", "axis": {"orient": "top", "title": "ξᵧ=-1(y-0)x²+5(y-0)+0(x-0)", "labels": false, "ticks": false, "titleFont": "Liberation Sans", "titleFontSize": 51, "titleFontWeight": "bold", "titleColor": "#000000", "titlePadding": 36}}}}
   ],
   "resolve": {"axis": {"x": "independent"}}},
  {"width": 473, "height": 400, "data": {"name": "cE"},
   "title": {"text": "(E)", "anchor": "start", "frame": "group", "dx": -35, "font": "Open Sans", "fontSize": 66, "fontWeight": "normal", "offset": 26},
   "encoding": {
     "y": {"field": "y", "type": "quantitative", "scale": {"domain": [-1, 1], "nice": false, "zero": false}, "axis": {"values": [-1, 0, 1], "title": "y"}},
     "color": {"field": "l", "type": "quantitative", "scale": {"domain": [-6,-4.5,-3,-1.5,0,1.5,3,4.5,6], "range": ["#352a87","#0f5cdd","#1481d6","#06a4ca","#2eb7a4","#87bf77","#d1bb59","#fec832","#f9fb0e"]}, "legend": null},
     "detail": {"field": "l", "type": "nominal"}},
   "layer": [
     {"mark": {"type": "line", "interpolate": "monotone"}, "encoding": {"x": {"field": "x", "type": "quantitative", "scale": {"domain": [-1, 1], "nice": false, "zero": false}, "axis": {"values": [-1, 0, 1], "title": "x"}}, "strokeWidth": {"condition": {"test": "datum.l == 0", "value": 5}, "value": 3}}},
     {"mark": {"type": "line", "opacity": 0}, "encoding": {"x": {"field": "x", "type": "quantitative", "axis": {"orient": "top", "title": "ξᵧ=1(y-0)x²+5(y-0)+0(x-0)", "labels": false, "ticks": false, "titleFont": "Liberation Sans", "titleFontSize": 51, "titleFontWeight": "bold", "titleColor": "#000000", "titlePadding": 36}}}}
   ],
   "resolve": {"axis": {"x": "independent"}}},
  {"width": 473, "height": 359, "title": "ξᵧ=0(y-0)x²+5(y-0)+0(x-0)", "data": {"name": "qA"},
   "encoding": {"x": {"field": "x", "type": "quantitative", "scale": {"domain": [-1.2, 1.2], "nice": false, "zero": false}, "axis": {"values": [-1, 0, 1], "title": "x"}}},
   "layer": [
     {"mark": {"type": "rule", "color": "#0072BD", "strokeWidth": 7, "opacity": 0.45},
      "encoding": {"y": {"field": "y", "type": "quantitative", "scale": {"domain": [-1.18, 1.19], "nice": false, "zero": false}, "axis": {"values": [-1, 0, 1], "title": "y"}}, "y2": {"field": "e"}}},
     {"mark": {"type": "point", "filled": true, "color": "#0072BD", "opacity": 1},
      "encoding": {"y": {"field": "e", "type": "quantitative", "title": "y"},
        "shape": {"condition": {"test": "datum.e>datum.y", "value": "triangle-up"}, "value": "triangle-down"},
        "size": {"condition": [{"test": "abs(datum.e-datum.y)<0.03", "value": 8}, {"test": "abs(datum.e-datum.y)<0.08", "value": 28}], "value": 80}}}
   ]},
  {"width": 473, "height": 359, "title": "ξᵧ=0(y-0)x²+0(y-0)+3(x-0)", "data": {"name": "qB"},
   "encoding": {"x": {"field": "x", "type": "quantitative", "scale": {"domain": [-1.2, 1.2], "nice": false, "zero": false}, "axis": {"values": [-1, 0, 1], "title": "x"}}},
   "layer": [
     {"mark": {"type": "rule", "color": "#0072BD", "strokeWidth": 7, "opacity": 0.45},
      "encoding": {"y": {"field": "y", "type": "quantitative", "scale": {"domain": [-1.18, 1.19], "nice": false, "zero": false}, "axis": {"values": [-1, 0, 1], "title": "y"}}, "y2": {"field": "e"}}},
     {"mark": {"type": "point", "filled": true, "color": "#0072BD", "opacity": 1},
      "encoding": {"y": {"field": "e", "type": "quantitative", "title": "y"},
        "shape": {"condition": {"test": "datum.e>datum.y", "value": "triangle-up"}, "value": "triangle-down"},
        "size": {"condition": [{"test": "abs(datum.e-datum.y)<0.03", "value": 8}, {"test": "abs(datum.e-datum.y)<0.08", "value": 28}], "value": 80}}}
   ]},
  {"width": 473, "height": 359, "title": "ξᵧ=0(y-0)x²+5(y-0)+3(x-0)", "data": {"name": "qC"},
   "encoding": {"x": {"field": "x", "type": "quantitative", "scale": {"domain": [-1.2, 1.2], "nice": false, "zero": false}, "axis": {"values": [-1, 0, 1], "title": "x"}}},
   "layer": [
     {"mark": {"type": "rule", "color": "#0072BD", "strokeWidth": 7, "opacity": 0.45},
      "encoding": {"y": {"field": "y", "type": "quantitative", "scale": {"domain": [-1.18, 1.19], "nice": false, "zero": false}, "axis": {"values": [-1, 0, 1], "title": "y"}}, "y2": {"field": "e"}}},
     {"mark": {"type": "point", "filled": true, "color": "#0072BD", "opacity": 1},
      "encoding": {"y": {"field": "e", "type": "quantitative", "title": "y"},
        "shape": {"condition": {"test": "datum.e>datum.y", "value": "triangle-up"}, "value": "triangle-down"},
        "size": {"condition": [{"test": "abs(datum.e-datum.y)<0.03", "value": 8}, {"test": "abs(datum.e-datum.y)<0.08", "value": 28}], "value": 80}}}
   ]},
  {"width": 473, "height": 359, "title": "ξᵧ=-1(y-0)x²+5(y-0)+0(x-0)", "data": {"name": "qD"},
   "encoding": {"x": {"field": "x", "type": "quantitative", "scale": {"domain": [-1.2, 1.2], "nice": false, "zero": false}, "axis": {"values": [-1, 0, 1], "title": "x"}}},
   "layer": [
     {"mark": {"type": "rule", "color": "#0072BD", "strokeWidth": 7, "opacity": 0.45},
      "encoding": {"y": {"field": "y", "type": "quantitative", "scale": {"domain": [-1.18, 1.19], "nice": false, "zero": false}, "axis": {"values": [-1, 0, 1], "title": "y"}}, "y2": {"field": "e"}}},
     {"mark": {"type": "point", "filled": true, "color": "#0072BD", "opacity": 1},
      "encoding": {"y": {"field": "e", "type": "quantitative", "title": "y"},
        "shape": {"condition": {"test": "datum.e>datum.y", "value": "triangle-up"}, "value": "triangle-down"},
        "size": {"condition": [{"test": "abs(datum.e-datum.y)<0.03", "value": 8}, {"test": "abs(datum.e-datum.y)<0.08", "value": 28}], "value": 80}}}
   ]},
  {"width": 473, "height": 359, "title": "ξᵧ=1(y-0)x²+5(y-0)+0(x-0)", "data": {"name": "qE"},
   "encoding": {"x": {"field": "x", "type": "quantitative", "scale": {"domain": [-1.2, 1.2], "nice": false, "zero": false}, "axis": {"values": [-1, 0, 1], "title": "x"}}},
   "layer": [
     {"mark": {"type": "rule", "color": "#0072BD", "strokeWidth": 7, "opacity": 0.45},
      "encoding": {"y": {"field": "y", "type": "quantitative", "scale": {"domain": [-1.18, 1.19], "nice": false, "zero": false}, "axis": {"values": [-1, 0, 1], "title": "y"}}, "y2": {"field": "e"}}},
     {"mark": {"type": "point", "filled": true, "color": "#0072BD", "opacity": 1},
      "encoding": {"y": {"field": "e", "type": "quantitative", "title": "y"},
        "shape": {"condition": {"test": "datum.e>datum.y", "value": "triangle-up"}, "value": "triangle-down"},
        "size": {"condition": [{"test": "abs(datum.e-datum.y)<0.03", "value": 8}, {"test": "abs(datum.e-datum.y)<0.08", "value": 28}], "value": 80}}}
   ]}
]
}
